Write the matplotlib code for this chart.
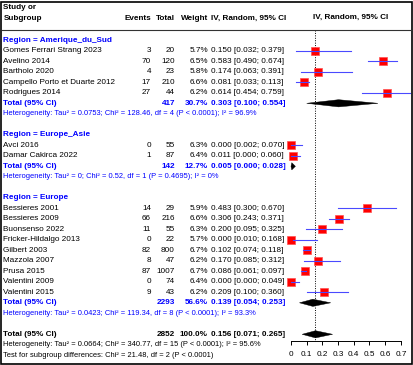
import matplotlib; matplotlib.use('Agg')
import matplotlib.pyplot as plt
from matplotlib.transforms import blended_transform_factory
from matplotlib.patches import Polygon, Rectangle
from matplotlib.lines import Line2D

plt.rcParams['font.family'] = ['Liberation Sans', 'DejaVu Sans']

# ---- data ----
groups = ['Amerique_du_Sud', 'Europe_Asie', 'Europe']
studies = [
    ['Gomes Ferrari Strang 2023', 'Avelino 2014', 'Bartholo 2020',
     'Campello Porto et Duarte 2012', 'Rodrigues 2014'],
    ['Avci 2016', 'Damar Cakirca 2022'],
    ['Bessieres 2001', 'Bessieres 2009', 'Buonsenso 2022', 'Fricker-Hildalgo 2013',
     'Gilbert 2003', 'Mazzola 2007', 'Prusa 2015', 'Valentini 2009', 'Valentini 2015'],
]
events = [[3, 70, 4, 17, 27], [0, 1], [14, 66, 11, 0, 82, 8, 87, 0, 9]]
totals = [[20, 120, 23, 210, 44], [55, 87], [29, 216, 55, 22, 800, 47, 1007, 74, 43]]
weights = [[5.7, 6.5, 5.8, 6.6, 6.2], [6.3, 6.4], [5.9, 6.6, 6.3, 5.7, 6.7, 6.2, 6.7, 6.4, 6.2]]
est = [[0.150, 0.583, 0.174, 0.081, 0.614], [0.000, 0.011],
       [0.483, 0.306, 0.200, 0.000, 0.102, 0.170, 0.086, 0.000, 0.209]]
lo = [[0.032, 0.490, 0.063, 0.033, 0.454], [0.002, 0.000],
      [0.300, 0.243, 0.095, 0.010, 0.074, 0.085, 0.061, 0.000, 0.100]]
hi = [[0.379, 0.674, 0.391, 0.113, 0.759], [0.070, 0.060],
      [0.670, 0.371, 0.325, 0.168, 0.118, 0.312, 0.097, 0.049, 0.360]]

grp_n = [417, 142, 2293]
grp_w = [30.7, 12.7, 56.6]
grp_est = [0.303, 0.005, 0.139]
grp_lo = [0.100, 0.000, 0.054]
grp_hi = [0.554, 0.028, 0.253]
grp_het = ['Heterogeneity: Tau² = 0.0753; Chi² = 128.46, df = 4 (P < 0.0001); I² = 96.9%',
           'Heterogeneity: Tau² = 0; Chi² = 0.52, df = 1 (P = 0.4695); I² = 0%',
           'Heterogeneity: Tau² = 0.0423; Chi² = 119.34, df = 8 (P < 0.0001); I² = 93.3%']

all_n, all_est, all_lo, all_hi = 2852, 0.156, 0.071, 0.265
all_het = 'Heterogeneity: Tau² = 0.0664; Chi² = 340.77, df = 15 (P < 0.0001); I² = 95.6%'
sub_test = 'Test for subgroup differences: Chi² = 21.48, df = 2 (P < 0.0001)'
xticks = [0, 0.1, 0.2, 0.3, 0.4, 0.5, 0.6, 0.7]

# ---- layout (pixel based) ----
W, H = 414, 365
X0, PPU = 291, 157          # pixel of effect 0, pixels per unit
ROW0, DY = 40.3, 10.5
BLUE = '#0000ff'
FS, FS_HET = 5.85, 5.4

fig = plt.figure(figsize=(W / 100, H / 100), dpi=100)
ax = fig.add_axes([0, 0, 1, 1])
ax.set_xlim(-X0 / PPU, (W - X0) / PPU)
ax.set_ylim(H, 0)
ax.patch.set_visible(False)
for s in ['top', 'left', 'right']:
    ax.spines[s].set_visible(False)
ax.spines['bottom'].set_position(('data', 341))
ax.spines['bottom'].set_bounds(0, 0.7)
ax.spines['bottom'].set_linewidth(0.7)
ax.set_yticks([])
ax.set_xticks(xticks)
ax.set_xticklabels(['0' if t == 0 else f'{t:.1f}' for t in xticks])
ax.tick_params(axis='x', direction='out', length=3, width=0.7, labelsize=5.9, pad=4)

tr = blended_transform_factory(ax.transAxes, ax.transData)
def put(xp, y, s, ha='left', fs=FS, **kw):
    ax.text(xp / W, y, s, transform=tr, ha=ha, va='center', fontsize=fs, **kw)

def ci(e, l, h):
    return f'{e:.3f} [{l:.3f}; {h:.3f}]'

def diamond(e, l, h, y, col='black'):
    ax.add_patch(Polygon([(l, y), (e, y - 3.6), (h, y), (e, y + 3.6)],
                         closed=True, fc=col, ec=col, lw=0.3, zorder=3))

# header
put(3.5, 7.3, 'Study or', weight='bold')
put(3.5, 18.5, 'Subgroup', weight='bold')
put(151, 18.5, 'Events', ha='right', weight='bold')
put(175, 18.5, 'Total', ha='right', weight='bold')
put(208, 18.5, 'Weight', ha='right', weight='bold')
put(211, 18.5, 'IV, Random, 95% CI', weight='bold')
put(351, 17.5, 'IV, Random, 95% CI', ha='center', weight='bold')
fig.add_artist(Line2D([2 / W, 412 / W], [1 - 29.5 / H] * 2, color='#333333', lw=0.8))

row = 0
for g in range(len(groups)):
    y = ROW0 + DY * row
    put(3.5, y, f'Region = {groups[g]}', color=BLUE, weight='bold')
    row += 1
    for i in range(len(studies[g])):
        y = ROW0 + DY * row
        put(3.5, y, studies[g][i])
        put(151, y, str(events[g][i]), ha='right')
        put(175, y, str(totals[g][i]), ha='right')
        put(208, y, f'{weights[g][i]:.1f}%', ha='right')
        put(211, y, ci(est[g][i], lo[g][i], hi[g][i]))
        ms = 5.9 * (weights[g][i] / 6.7) ** 0.5
        ax.plot(est[g][i], y, 's', ms=ms, mfc='#ff0000', mec='#ff5050', mew=0.5, zorder=2)
        ax.plot([lo[g][i], hi[g][i]], [y, y], color='#4a4aff', lw=0.8, zorder=3)
        row += 1
    y = ROW0 + DY * row
    put(3.5, y, 'Total (95% CI)', color=BLUE, weight='bold')
    put(175, y, str(grp_n[g]), ha='right', color=BLUE, weight='bold')
    put(208, y, f'{grp_w[g]:.1f}%', ha='right', color=BLUE, weight='bold')
    put(211, y, ci(grp_est[g], grp_lo[g], grp_hi[g]), color=BLUE, weight='bold')
    diamond(grp_est[g], grp_lo[g], grp_hi[g], y)
    row += 1
    put(3.5, ROW0 + DY * row, grp_het[g], fs=FS_HET, color=BLUE)
    row += 2

y = ROW0 + DY * row
put(3.5, y, 'Total (95% CI)', weight='bold')
put(175, y, str(all_n), ha='right', weight='bold')
put(208, y, '100.0%', ha='right', weight='bold')
put(211, y, ci(all_est, all_lo, all_hi), weight='bold')
diamond(all_est, all_lo, all_hi, y)
put(3.5, ROW0 + DY * (row + 1), all_het, fs=FS_HET)
put(3.5, ROW0 + DY * (row + 2), sub_test, fs=FS_HET)

ax.plot([all_est, all_est], [29.5, 341], color='black', lw=0.7, ls=(0, (1, 1.5)), zorder=1)

fig.add_artist(Rectangle((1.5 / W, 1.5 / H), 411 / W, 362 / H, transform=fig.transFigure,
                         fill=False, ec='black', lw=1.2))
fig.savefig('out.png', dpi=100)
